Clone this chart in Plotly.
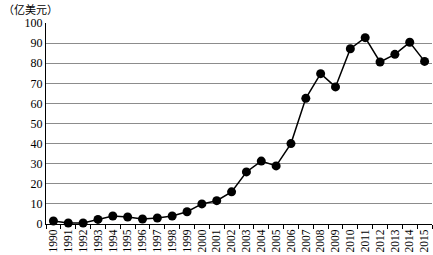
import plotly.graph_objects as go

years = [str(y) for y in range(1990, 2016)]
values = [1.5, 0.5, 0.5, 2.3, 4.0, 3.5, 2.5, 3.0, 4.0, 6.1, 10.0, 11.6, 16.0,
          25.9, 31.3, 28.9, 40.0, 62.5, 74.8, 68.2, 87.2, 92.7, 80.6, 84.4, 90.4, 80.9]
y_ticks = list(range(0, 101, 10))
unit_label = "（亿美元）"

fig = go.Figure()
fig.add_trace(go.Scatter(
    x=years, y=values, mode="lines+markers",
    line=dict(color="black", width=1.5),
    marker=dict(color="black", size=9),
    showlegend=False, cliponaxis=False,
))

serif = "Liberation Serif, Times New Roman, serif"
fig.update_layout(
    width=433, height=255,
    margin=dict(l=46, r=1, t=23, b=31),
    plot_bgcolor="white", paper_bgcolor="white",
    font=dict(family=serif, size=12, color="black"),
    xaxis=dict(
        type="category", range=[-0.5, 25.5],
        tickangle=-90, tickson="boundaries", ticks="outside", ticklen=4,
        tickcolor="black", showline=True, linecolor="black", linewidth=1,
        showgrid=False, tickfont=dict(family=serif, size=11.5),
        mirror=False,
    ),
    yaxis=dict(
        range=[0, 100], tickvals=y_ticks, showline=True, linecolor="black",
        linewidth=1, showgrid=True, gridcolor="#8c8c8c", gridwidth=1,
        ticks="", zeroline=False, tickfont=dict(family=serif, size=12),
    ),
    annotations=[dict(
        text=unit_label, xref="paper", yref="paper", x=-44/386, y=1 + 23/201,
        xanchor="left", yanchor="top", showarrow=False, borderpad=0,
        font=dict(family="Noto Sans CJK SC", size=11, color="black"),
    )],
)

fig.write_html("out.html")
